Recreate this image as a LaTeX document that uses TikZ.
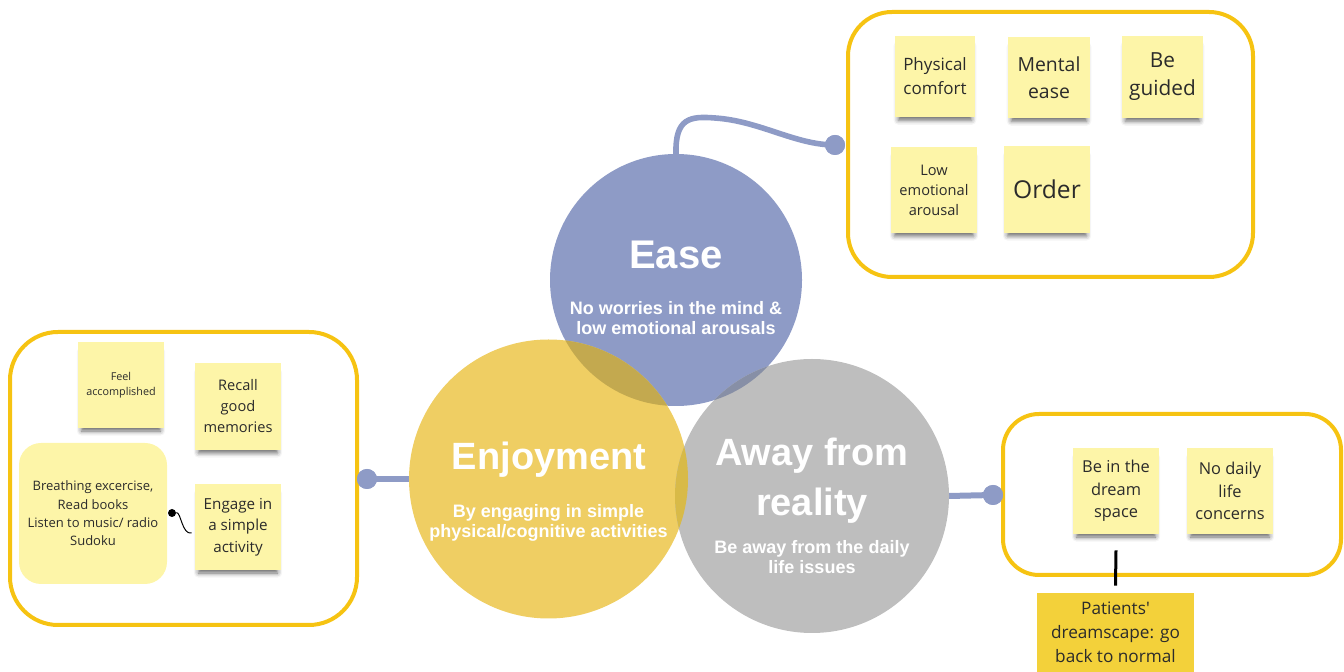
\documentclass[tikz,border=0pt]{standalone}
\usepackage{fontspec}
\setmainfont{Open Sans}
\newfontfamily\kopf{Liberation Sans}
\usetikzlibrary{shadows.blur}
\definecolor{easeblau}{HTML}{8E9BC6}
\definecolor{freudegelb}{HTML}{EFCE63}
\definecolor{fernegrau}{HTML}{BEBEBE}
\definecolor{blaugelb}{HTML}{C3A94F}
\definecolor{blaugrau}{HTML}{878FA6}
\definecolor{gelbgrau}{HTML}{D8BA48}
\definecolor{rahmengold}{HTML}{F6C312}
\definecolor{notizgelb}{HTML}{FDF5A8}
\definecolor{patientgold}{HTML}{F3D13A}
\definecolor{notiztext}{HTML}{2B2B2B}
\newcommand{\titel}{\kopf\bfseries\fontsize{19}{25}\selectfont}
\newcommand{\unter}{\kopf\bfseries\fontsize{9}{10}\selectfont}
\newcommand{\nf}[2]{\fontsize{#1}{#2}\selectfont}
\newcommand{\gerade}{\XeTeXglyph\XeTeXcharglyph"0027\relax}
\tikzset{kreis/.style={circle,inner sep=0,outer sep=0},
  aufschrift/.style={text=white,align=center,inner sep=0},
  rahmen/.style={draw=rahmengold,line width=2pt,rounded corners=#1,inner sep=0},
  rahmen/.default=20pt,
  notiz/.style={fill=notizgelb,text=notiztext,align=center,inner sep=0,
    minimum width=43pt,minimum height=43pt,
    blur shadow={shadow xshift=0pt,shadow yshift=-3.5pt,shadow scale=0.92,
      shadow blur radius=2.5pt,shadow opacity=60}},
  leitung/.style={easeblau,line width=2.8pt},
  punkt/.style={circle,fill=easeblau,inner sep=0,minimum size=10pt}}

\begin{document}
\begin{tikzpicture}[x=0.5pt,y=-0.5pt]
\useasboundingbox (0,0) rectangle (1344,672);
% Rahmen
\node[rahmen=22pt,minimum width=202.5pt,minimum height=132.5pt] (easebox) at (1050.5,144.5) {};
\node[rahmen=24pt,minimum width=173.5pt,minimum height=146.5pt] (freudebox) at (183.5,478.5) {};
\node[rahmen=18pt,minimum width=169pt,minimum height=80.5pt] (fernebox) at (1172,494.5) {};
% Notizen Ease
\node[notiz,minimum width=40pt,minimum height=40.5pt,font=\nf{8.5}{12}] (koerper) at (935,76.5) {Physical\\comfort};
\node[notiz,minimum width=41pt,minimum height=40.5pt,font=\nf{9.7}{13.5}] (mental) at (1049,77.5) {Mental\\ease};
\node[notiz,minimum width=40.5pt,minimum height=41pt,font=\nf{10.4}{14}] (gefuehrt) at (1162.5,77) {Be\\guided};
\node[notiz,font=\nf{7.3}{10}] (erregung) at (934,190) {Low\\emotional\\arousal};
\node[notiz,minimum height=43.5pt,font=\nf{12.3}{14}] (ordnung) at (1047,189.5) {Order};
% Notizen Enjoyment
\node[notiz,font=\nf{5.4}{7.5}] (erfuellt) at (121,385) {Feel\\accomplished};
\node[notiz,minimum height=43.5pt,font=\nf{7.3}{10.5}] (erinnern) at (238,406.5) {Recall\\good\\memories};
\node[notiz,font=\nf{7.6}{10.8}] (taetig) at (238,527) {Engage in\\a simple\\activity};
\node[fill=notizgelb,text=notiztext,align=center,inner sep=0,rounded corners=11pt,
  minimum width=74pt,minimum height=70.5pt,font=\nf{6.5}{9.2}] (atmen) at (93,513.5)
  {Breathing excercise,\\Read books\\Listen to music/ radio\\Sudoku};
\node[circle,fill=black,inner sep=0,minimum size=4pt] (anker) at (172,513) {};
\draw[black,line width=0.5pt] (anker) .. controls (181,512) and (182,535) .. ([xshift=-1.5pt,yshift=-3pt]taetig.west);
% Notizen Away
\node[notiz,font=\nf{8.2}{11.3}] (traum) at (1116,491) {Be in the\\dream\\space};
\node[notiz,font=\nf{8.2}{11.3}] (alltag) at (1230,491) {No daily\\life\\concerns};
\node[fill=patientgold,text=notiztext,align=center,inner sep=0,minimum width=78.5pt,
  minimum height=39.5pt,font=\nf{8.6}{12}] (patienten) at (1115.5,632.5)
  {Patients\gerade\\dreamscape: go\\back to normal};
\draw[black,line width=1.5pt] ([yshift=-8pt]traum.south) -- ([yshift=3.5pt]patienten.north);
% Kreise und Verbinder
\node[punkt] (easepunkt) at (835,145) {};
\node[punkt] (freudepunkt) at (367,479) {};
\node[punkt] (fernepunkt) at (993,495) {};
\node[kreis,minimum size=126pt] (ease) at (676,280) {};
\node[kreis,minimum size=139.5pt] (freude) at (548.5,479) {};
\node[kreis,minimum size=137pt] (ferne) at (812,496) {};
\draw[leitung] (ease.north) .. controls (675,118) and (690,116) .. (715,118)
  .. controls (760,121) and (795,145) .. (easepunkt.center);
\draw[leitung,line width=3pt] (freudepunkt.center) -- (freude.west);
\draw[leitung,line width=3pt] (ferne.east) -- (fernepunkt.center);
\fill[easeblau] (ease.center) circle[radius=63pt];
\fill[freudegelb] (freude.center) circle[radius=69.75pt];
\fill[fernegrau] (ferne.center) circle[radius=68.5pt];
\begin{scope}
  \clip (ease.center) circle[radius=63pt];
  \fill[blaugelb] (freude.center) circle[radius=69.75pt];
  \fill[blaugrau] (ferne.center) circle[radius=68.5pt];
\end{scope}
\begin{scope}
  \clip (freude.center) circle[radius=69.75pt];
  \fill[gelbgrau] (ferne.center) circle[radius=68.5pt];
\end{scope}
\node[punkt] at (easepunkt) {};
\node[punkt] at (freudepunkt) {};
\node[punkt] at (fernepunkt) {};
% Aufschriften
\node[aufschrift,font=\titel\fontsize{20}{25}\selectfont] (easetitel) at (676,255) {Ease};
\node[aufschrift,font=\unter] (easeunter) at (676,318) {No worries in the mind \&\\low emotional arousals};
\node[aufschrift,font=\titel] (freudetitel) at (549,460) {Enjoyment};
\node[aufschrift,font=\unter] (freudeunter) at (548.5,523) {By engaging in simple\\physical/cognitive activities};
\node[aufschrift,font=\titel] (fernetitel) at (812,481) {Away from\\reality};
\node[aufschrift,font=\unter] (ferneunter) at (812,557) {Be away from the daily\\life issues};
\end{tikzpicture}
\end{document}
